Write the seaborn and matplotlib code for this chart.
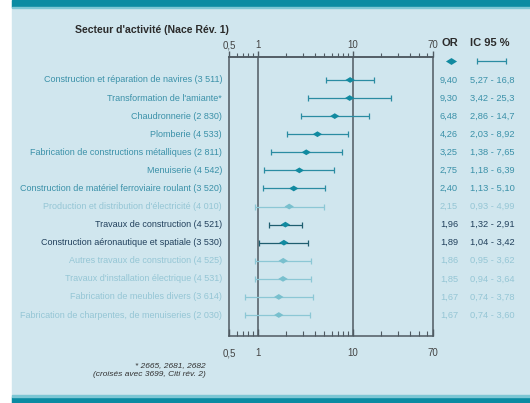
import numpy as np
import pandas as pd
import matplotlib
matplotlib.use("Agg")
import matplotlib.pyplot as plt
import matplotlib.transforms as mtransforms
from matplotlib.patches import Rectangle
from matplotlib.markers import MarkerStyle
import seaborn as sns

# data
secteurs = [
    "Construction et réparation de navires (3 511)",
    "Transformation de l'amiante*",
    "Chaudronnerie (2 830)",
    "Plomberie (4 533)",
    "Fabrication de constructions métalliques (2 811)",
    "Menuiserie (4 542)",
    "Construction de matériel ferroviaire roulant (3 520)",
    "Production et distribution d'électricité (4 010)",
    "Travaux de construction (4 521)",
    "Construction aéronautique et spatiale (3 530)",
    "Autres travaux de construction (4 525)",
    "Travaux d'installation électrique (4 531)",
    "Fabrication de meubles divers (3 614)",
    "Fabrication de charpentes, de menuiseries (2 030)",
]
odds_ratio = [9.40, 9.30, 6.48, 4.26, 3.25, 2.75, 2.40, 2.15, 1.96, 1.89, 1.86, 1.85, 1.67, 1.67]
ic_bas = [5.27, 3.42, 2.86, 2.03, 1.38, 1.18, 1.13, 0.93, 1.32, 1.04, 0.95, 0.94, 0.74, 0.74]
ic_haut = [16.8, 25.3, 14.7, 8.92, 7.65, 6.39, 5.10, 4.99, 2.91, 3.42, 3.62, 3.64, 3.78, 3.60]
groupe = ["sig"] * 7 + ["ns", "fonce", "fonce", "ns", "ns", "ns", "ns"]

df = pd.DataFrame({"secteur": secteurs, "OR": odds_ratio, "bas": ic_bas,
                   "haut": ic_haut, "groupe": groupe})
df["rang"] = np.arange(len(df))

def fr(v):
    s = f"{v:.2f}" if v < 10 else f"{v:.1f}"
    return s.replace(".", ",")

# colours
txt_col = {"sig": "#3b91a9", "fonce": "#21405c", "ns": "#95c6d5"}
pt_col = {"sig": "#118aa0", "fonce": "#118aa0", "ns": "#79c0ce"}
bar_col = {"sig": "#2a8ca2", "fonce": "#1f5e6f", "ns": "#8cc7d5"}
axe_col = "#4f5a62"

sns.set_theme(style="white")
plt.rcParams["font.family"] = ["Liberation Sans", "DejaVu Sans"]

W, H = 530, 403
fig = plt.figure(figsize=(W / 100, H / 100), dpi=100)
fig.patch.set_facecolor("white")
# panel background and bands
fig.add_artist(Rectangle((12 / W, 0), 1, 1, transform=fig.transFigure, color="#d0e6ee", zorder=-10))
fig.add_artist(Rectangle((12 / W, 1 - 7 / H), 1, 7 / H, transform=fig.transFigure, color="#0a8ba2", zorder=-9))
fig.add_artist(Rectangle((12 / W, 1 - 8 / H), 1, 1 / H, transform=fig.transFigure, color="#7cc6d4", zorder=-9))
fig.add_artist(Rectangle((12 / W, 0), 1, 6 / H, transform=fig.transFigure, color="#0a8ba2", zorder=-9))
fig.add_artist(Rectangle((12 / W, 6 / H), 1, 2 / H, transform=fig.transFigure, color="#7cc6d4", zorder=-9))

x0, x1 = 229 / W, 433 / W
y_top, y_bot = 1 - 57 / H, 1 - 336 / H
ax = fig.add_axes([x0, y_bot, x1 - x0, y_top - y_bot])
ax.set_facecolor("none")

# error bars
for _, r in df.iterrows():
    ax.errorbar(r["OR"], r["rang"], xerr=[[r["OR"] - r["bas"]], [r["haut"] - r["OR"]]],
                fmt="none", ecolor=bar_col[r["groupe"]], elinewidth=0.9,
                capsize=2.3, capthick=0.9, zorder=3)

diamant = MarkerStyle([(-1, 0), (0, 0.62), (1, 0), (0, -0.62), (-1, 0)])
sns.scatterplot(data=df, x="OR", y="rang", hue="groupe", palette=pt_col,
                marker=diamant, s=45, linewidth=0, legend=False, ax=ax, zorder=4)

ax.set_xscale("log")
ax.set_xlim(0.5, 70)
ax.set_ylim(13 + 1.16, -1.27)
ax.set_xlabel("")
ax.set_ylabel("")
ax.set_yticks([])

for v in [1, 10]:
    ax.axvline(v, color=axe_col, lw=1.1, zorder=1)
for s in ax.spines.values():
    s.set_color(axe_col)
    s.set_linewidth(1.1)
    s.set_visible(True)

major = [0.5, 1, 10, 70]
minor = [0.6, 0.7, 0.8, 0.9, 2, 3, 4, 5, 6, 7, 8, 9, 20, 30, 40, 50, 60]
labels = ["0,5", "1", "10", "70"]
ax.set_xticks(major)
ax.set_xticklabels(labels)
ax.set_xticks(minor, minor=True)
ax.xaxis.set_minor_formatter(matplotlib.ticker.NullFormatter())
ax.tick_params(axis="x", which="both", direction="in", bottom=True, top=False,
               color=axe_col, labelsize=7, labelcolor="#444444", pad=9)
ax.tick_params(axis="x", which="major", length=5, width=1)
ax.tick_params(axis="x", which="minor", length=3.5, width=0.8)

sec = ax.secondary_xaxis("top")
sec.set_xticks(major)
sec.set_xticklabels(labels)
sec.set_xticks(minor, minor=True)
sec.xaxis.set_minor_formatter(matplotlib.ticker.NullFormatter())
sec.tick_params(axis="x", which="both", direction="out", color=axe_col,
                labelsize=7, labelcolor="#444444", pad=0.5)
sec.tick_params(axis="x", which="major", length=4.5, width=1)
sec.tick_params(axis="x", which="minor", length=3, width=0.8)
sec.spines["top"].set_color(axe_col)
sec.spines["top"].set_linewidth(1.1)

# row labels and value columns
tr = mtransforms.blended_transform_factory(fig.transFigure, ax.transData)
for _, r in df.iterrows():
    c = txt_col[r["groupe"]]
    ax.text(222 / W, r["rang"], r["secteur"], transform=tr, ha="right", va="center",
            fontsize=6.5, color=c, clip_on=False)
    ax.text(458 / W, r["rang"], fr(r["OR"]), transform=tr, ha="right", va="center",
            fontsize=6.7, color=c, clip_on=False)
    ax.text(470 / W, r["rang"], f"{fr(r['bas'])} - {fr(r['haut'])}", transform=tr,
            ha="left", va="center", fontsize=6.7, color=c, clip_on=False)

# legend symbols
y_leg = (61 - 80) / 18.08
ax.plot([451 / W], [y_leg], transform=tr, marker=diamant, ms=8, color="#118aa0",
        mew=0, clip_on=False)
ax.errorbar([491.5 / W], [y_leg], xerr=[[14.5 / W], [14.5 / W]], transform=tr,
            fmt="none", ecolor="#2a8ca2", elinewidth=0.9, capsize=2.3, capthick=0.9,
            clip_on=False)

# headers
fig.text(75 / W, 1 - 30 / H, "Secteur d'activité (Nace Rév. 1)", ha="left", va="center",
         fontsize=7.6, fontweight="bold", color="#2b2b2b")
fig.text(441 / W, 1 - 43 / H, "OR", ha="left", va="center", fontsize=8,
         fontweight="bold", color="#2b2b2b")
fig.text(470 / W, 1 - 43 / H, "IC 95 %", ha="left", va="center", fontsize=8,
         fontweight="bold", color="#2b2b2b")

# footnote
fig.text(206 / W, 1 - 366 / H, "* 2665, 2681, 2682", ha="right", va="center",
         fontsize=6, style="italic", color="#333333")
fig.text(206 / W, 1 - 375 / H, "(croisés avec 3699, Citi rév. 2)", ha="right", va="center",
         fontsize=6, style="italic", color="#333333")

fig.savefig("out.png", dpi=100)
